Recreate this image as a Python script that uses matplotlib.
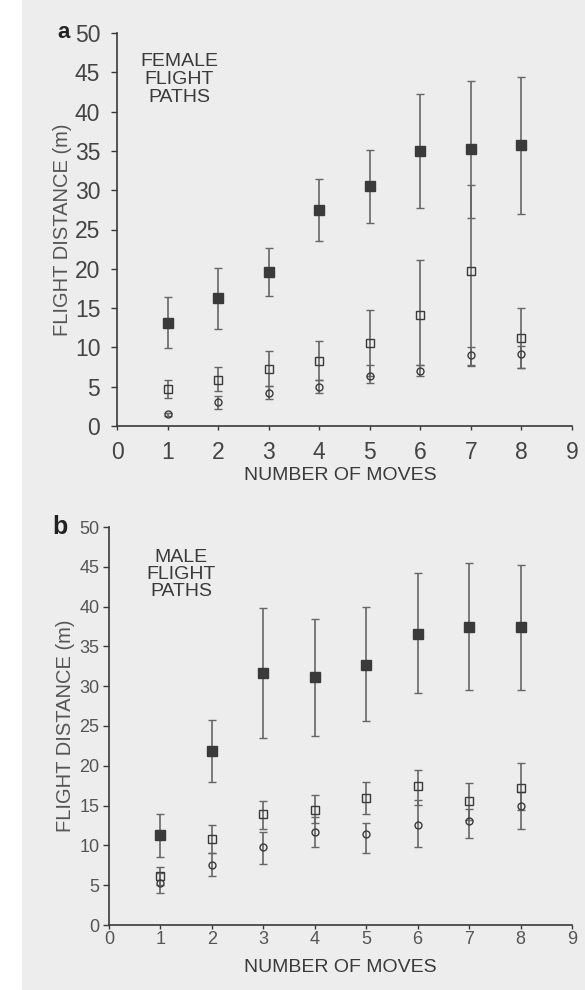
import numpy as np
import matplotlib
matplotlib.use("Agg")
import matplotlib.pyplot as plt
from matplotlib.patches import Rectangle

plt.rcParams['font.family'] = ['Liberation Sans', 'DejaVu Sans']

moves = [1, 2, 3, 4, 5, 6, 7, 8]

# panel a - female flight paths (mean, lower, upper)
fem_filled = [13.1, 16.3, 19.6, 27.5, 30.5, 35.0, 35.2, 35.7]
fem_filled_lo = [9.9, 12.4, 16.6, 23.6, 25.8, 27.7, 26.4, 27.0]
fem_filled_hi = [16.4, 20.1, 22.6, 31.4, 35.1, 42.2, 43.9, 44.4]
fem_square = [4.7, 5.9, 7.3, 8.3, 10.6, 14.1, 19.7, 11.2]
fem_square_lo = [3.5, 4.4, 5.1, 5.9, 6.4, 7.8, 7.8, 7.4]
fem_square_hi = [5.8, 7.5, 9.6, 10.8, 14.8, 21.1, 30.6, 15.0]
fem_circle = [1.5, 3.0, 4.2, 4.9, 6.4, 7.0, 9.0, 9.1]
fem_circle_lo = [1.3, 2.1, 3.4, 4.2, 5.5, 6.4, 7.6, 7.4]
fem_circle_hi = [1.7, 3.8, 5.1, 5.9, 7.7, 7.8, 10.0, 10.2]

# panel b - male flight paths
male_filled = [11.3, 21.8, 31.7, 31.2, 32.7, 36.6, 37.4, 37.4]
male_filled_lo = [8.6, 18.0, 23.5, 23.8, 25.6, 29.1, 29.5, 29.5]
male_filled_hi = [14.0, 25.7, 39.8, 38.5, 39.9, 44.2, 45.5, 45.2]
male_square = [6.2, 10.8, 13.9, 14.5, 16.0, 17.4, 15.6, 17.2]
male_square_lo = [5.0, 9.0, 12.1, 12.8, 14.0, 15.1, 13.2, 14.4]
male_square_hi = [7.3, 12.6, 15.6, 16.3, 18.0, 19.5, 17.8, 20.3]
male_circle = [5.3, 7.5, 9.8, 11.7, 11.4, 12.6, 13.1, 14.9]
male_circle_lo = [4.0, 6.1, 7.7, 9.8, 9.1, 9.8, 10.9, 12.0]
male_circle_hi = [6.5, 9.0, 11.7, 13.6, 12.8, 15.7, 14.6, 16.7]

x_ticks = list(range(0, 10))
y_ticks = list(range(0, 51, 5))

INK = '#3a3a3a'
BAR = '#666666'


def draw_series(ax, x, y, lo, hi, marker, face, size):
    y = np.array(y)
    yerr = [y - np.array(lo), np.array(hi) - y]
    ax.errorbar(x, y, yerr=yerr, fmt='none', ecolor=BAR, elinewidth=1.2,
                capsize=3, capthick=1.0, zorder=2)
    ax.plot(x, y, linestyle='none', marker=marker, markersize=size,
            markerfacecolor=face, markeredgecolor=INK, markeredgewidth=1.0,
            zorder=3)


def style_axes(ax, tick_size, tick_color, ypad, xpad):
    ax.set_xlim(0, 9)
    ax.set_ylim(0, 50)
    ax.set_xticks(x_ticks)
    ax.set_yticks(y_ticks)
    ax.set_facecolor('none')
    for s in ['top', 'right']:
        ax.spines[s].set_visible(False)
    for s in ['left', 'bottom']:
        ax.spines[s].set_color(INK)
        ax.spines[s].set_linewidth(1.2)
    ax.tick_params(axis='y', direction='out', length=4, width=1, colors=INK,
                   labelcolor=tick_color, labelsize=tick_size, pad=ypad)
    ax.tick_params(axis='x', direction='out', length=3, width=1, colors=INK,
                   labelcolor=tick_color, labelsize=tick_size, pad=xpad)
    ax.set_xlabel('NUMBER OF MOVES', fontsize=14, color=INK)
    ax.set_ylabel('FLIGHT DISTANCE (m)', fontsize=14.5, color='#555555')


fig = plt.figure(figsize=(5.85, 9.9), dpi=100)
fig.patch.set_facecolor('#ededed')
fig.patches.append(Rectangle((0, 0), 22 / 585, 1, transform=fig.transFigure,
                             facecolor='white', edgecolor='none', zorder=-1))

ax_a = fig.add_axes([117 / 585, 1 - 426 / 990, 455 / 585, 393 / 990])
draw_series(ax_a, moves, fem_filled, fem_filled_lo, fem_filled_hi, 's', INK, 6.5)
draw_series(ax_a, moves, fem_square, fem_square_lo, fem_square_hi, 's', 'none', 5.5)
draw_series(ax_a, moves, fem_circle, fem_circle_lo, fem_circle_hi, 'o', 'none', 5)
style_axes(ax_a, 16.5, '#444444', 8, 8)
ax_a.xaxis.set_label_coords(0.49, -0.104)
ax_a.yaxis.set_label_coords(-0.098, 0.5)
ax_a.text(1.23, 47.5, 'FEMALE\nFLIGHT\nPATHS', ha='center', va='top',
          fontsize=14, color=INK, linespacing=1.08)
ax_a.text(-0.103, 1.0, 'a', transform=ax_a.transAxes, ha='right', va='center',
          fontsize=16, fontweight='bold', color='#222222')

ax_b = fig.add_axes([109 / 585, 1 - 925 / 990, 463 / 585, 398 / 990])
draw_series(ax_b, moves, male_filled, male_filled_lo, male_filled_hi, 's', INK, 6.5)
draw_series(ax_b, moves, male_square, male_square_lo, male_square_hi, 's', 'none', 5.5)
draw_series(ax_b, moves, male_circle, male_circle_lo, male_circle_hi, 'o', 'none', 5)
style_axes(ax_b, 13, '#555555', 3, 1)
ax_b.xaxis.set_label_coords(0.499, -0.085)
ax_b.yaxis.set_label_coords(-0.073, 0.5)
ax_b.text(1.40, 47.2, 'MALE\nFLIGHT\nPATHS', ha='center', va='top',
          fontsize=14, color=INK, linespacing=1.0)
ax_b.text(-0.089, 1.0, 'b', transform=ax_b.transAxes, ha='right', va='center',
          fontsize=18, fontweight='bold', color='#222222')

fig.savefig('out.png', dpi=100, facecolor=fig.get_facecolor())
